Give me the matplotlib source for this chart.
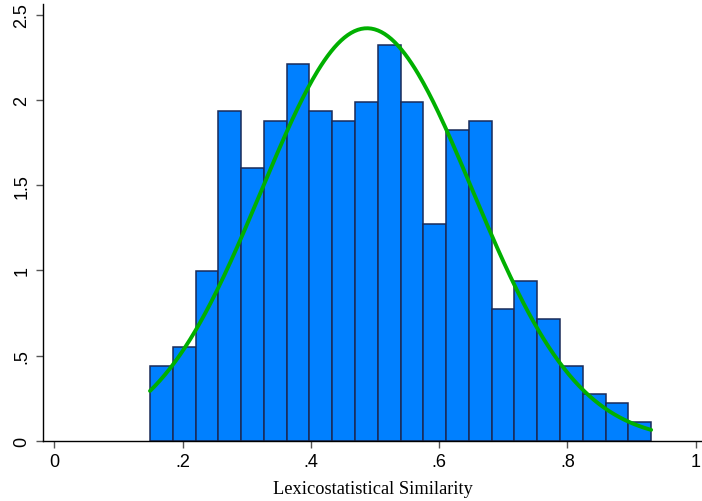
'''
Histogram of lexicostatistical similarity with a normal density overlay
'''
import numpy as np
import matplotlib.pyplot as plt

# histogram bins (left edge of the first bin, bin width) and bar heights (density)
bin_start = 0.149
bin_width = 0.03553
density = [0.44, 0.553, 0.995, 1.934, 1.601, 1.879, 2.211, 1.934, 1.879, 1.990, 2.323,
           1.990, 1.271, 1.824, 1.879, 0.772, 0.938, 0.717, 0.442, 0.276, 0.221, 0.110]

# fitted normal curve parameters
norm_mean = 0.4875
norm_sd = 0.1648

xticks = [0, 0.2, 0.4, 0.6, 0.8, 1.0]
xtick_labels = ['0', '.2', '.4', '.6', '.8', '1']
yticks = [0, 0.5, 1, 1.5, 2, 2.5]
ytick_labels = ['0', '.5', '1', '1.5', '2', '2.5']

lefts = bin_start + bin_width * np.arange(len(density))
x_hi = lefts[-1] + bin_width

fig = plt.figure(figsize=(7.02, 5.02), dpi=100)
ax = fig.add_axes([43 / 702, 60 / 502, 659 / 702, 437 / 502])

ax.bar(lefts, density, width=bin_width, align='edge',
       color='#0080ff', edgecolor='#1a2b58', linewidth=1.1, zorder=2)

xs = np.linspace(bin_start, x_hi, 300)
ys = np.exp(-0.5 * ((xs - norm_mean) / norm_sd) ** 2) / (norm_sd * np.sqrt(2 * np.pi))
ax.plot(xs, ys, color='#00b000', linewidth=2.8, solid_capstyle='round', zorder=3)

ax.set_xlim(-0.0179, 1.010)
ax.set_ylim(0, 2.563)

for s in ['top', 'right']:
    ax.spines[s].set_visible(False)
for s in ['left', 'bottom']:
    ax.spines[s].set_linewidth(1.0)
    ax.spines[s].set_color('black')

ax.set_xticks(xticks)
ax.set_xticklabels(xtick_labels, fontsize=13, family='Liberation Sans')
ax.set_yticks(yticks)
ax.set_yticklabels(ytick_labels, fontsize=13, family='Liberation Sans',
                   rotation=90, va='center')
ax.tick_params(axis='both', length=5, width=1, color='#555555', pad=4)

ax.set_xlabel('Lexicostatistical Similarity', fontsize=13.2,
              family='Liberation Serif', labelpad=7)

plt.savefig('out.png', dpi=100)
